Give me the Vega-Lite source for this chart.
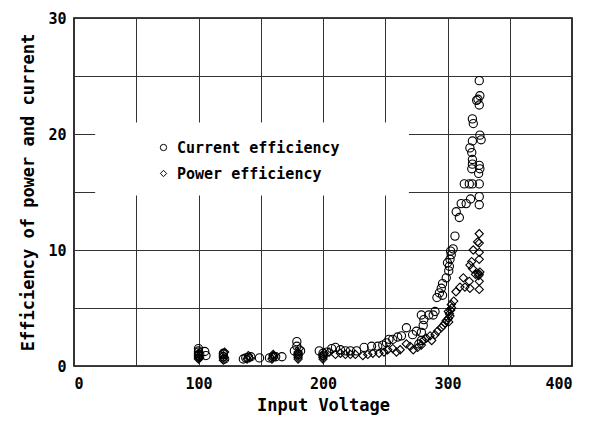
{
  "$schema": "https://vega.github.io/schema/vega-lite/v6.json",
  "width": 498,
  "height": 348,
  "autosize": {"type": "none"},
  "padding": {"left": 74, "top": 18, "right": 24, "bottom": 61},
  "background": "white",
  "config": {
    "view": {"stroke": "black", "strokeWidth": 1.6},
    "axis": {
      "grid": true,
      "gridColor": "#333333",
      "gridOpacity": 1,
      "gridWidth": 1,
      "domain": false,
      "ticks": false,
      "labelFont": "DejaVu Sans Mono",
      "labelFontWeight": "bold",
      "labelFontSize": 15,
      "labelColor": "black",
      "titleFont": "DejaVu Sans Mono",
      "titleFontWeight": "bold",
      "titleColor": "black"
    }
  },
  "layer": [
    {
      "data": {"values": [{"a": 1}]},
      "mark": {"type": "rect", "fill": "white", "stroke": null},
      "encoding": {
        "x": {"datum": 17, "type": "quantitative", "scale": {"domain": [0, 400]}},
        "x2": {"datum": 269},
        "y": {"datum": 14.7, "type": "quantitative", "scale": {"domain": [0, 30]}},
        "y2": {"datum": 21}
      }
    },
    {
      "data": {
        "values": [
          {"v": 100, "e": 1.5, "t": "Current efficiency"},
          {"v": 100, "e": 1.3, "t": "Current efficiency"},
          {"v": 100, "e": 1.2, "t": "Current efficiency"},
          {"v": 100, "e": 0.9, "t": "Current efficiency"},
          {"v": 101, "e": 1.0, "t": "Current efficiency"},
          {"v": 105, "e": 1.25, "t": "Current efficiency"},
          {"v": 106, "e": 0.9, "t": "Current efficiency"},
          {"v": 120, "e": 1.1, "t": "Current efficiency"},
          {"v": 120, "e": 1.0, "t": "Current efficiency"},
          {"v": 120, "e": 0.8, "t": "Current efficiency"},
          {"v": 121, "e": 0.6, "t": "Current efficiency"},
          {"v": 136, "e": 0.6, "t": "Current efficiency"},
          {"v": 138, "e": 0.7, "t": "Current efficiency"},
          {"v": 140, "e": 0.75, "t": "Current efficiency"},
          {"v": 142, "e": 0.8, "t": "Current efficiency"},
          {"v": 149, "e": 0.7, "t": "Current efficiency"},
          {"v": 157, "e": 0.7, "t": "Current efficiency"},
          {"v": 160, "e": 0.8, "t": "Current efficiency"},
          {"v": 162, "e": 0.8, "t": "Current efficiency"},
          {"v": 167, "e": 0.8, "t": "Current efficiency"},
          {"v": 179, "e": 2.1, "t": "Current efficiency"},
          {"v": 179, "e": 1.7, "t": "Current efficiency"},
          {"v": 177, "e": 1.3, "t": "Current efficiency"},
          {"v": 182, "e": 1.3, "t": "Current efficiency"},
          {"v": 180, "e": 1.0, "t": "Current efficiency"},
          {"v": 197, "e": 1.3, "t": "Current efficiency"},
          {"v": 203, "e": 1.2, "t": "Current efficiency"},
          {"v": 200, "e": 1.1, "t": "Current efficiency"},
          {"v": 200, "e": 0.9, "t": "Current efficiency"},
          {"v": 207, "e": 1.5, "t": "Current efficiency"},
          {"v": 210, "e": 1.6, "t": "Current efficiency"},
          {"v": 214, "e": 1.4, "t": "Current efficiency"},
          {"v": 218, "e": 1.3, "t": "Current efficiency"},
          {"v": 222, "e": 1.3, "t": "Current efficiency"},
          {"v": 227, "e": 1.3, "t": "Current efficiency"},
          {"v": 233, "e": 1.6, "t": "Current efficiency"},
          {"v": 239, "e": 1.7, "t": "Current efficiency"},
          {"v": 244, "e": 1.7, "t": "Current efficiency"},
          {"v": 248, "e": 1.8, "t": "Current efficiency"},
          {"v": 251, "e": 2.0, "t": "Current efficiency"},
          {"v": 253, "e": 2.3, "t": "Current efficiency"},
          {"v": 256, "e": 2.3, "t": "Current efficiency"},
          {"v": 260, "e": 2.5, "t": "Current efficiency"},
          {"v": 263, "e": 2.6, "t": "Current efficiency"},
          {"v": 267, "e": 3.3, "t": "Current efficiency"},
          {"v": 272, "e": 2.7, "t": "Current efficiency"},
          {"v": 275, "e": 3.0, "t": "Current efficiency"},
          {"v": 277, "e": 1.9, "t": "Current efficiency"},
          {"v": 279, "e": 2.2, "t": "Current efficiency"},
          {"v": 279, "e": 2.9, "t": "Current efficiency"},
          {"v": 280.5, "e": 3.5, "t": "Current efficiency"},
          {"v": 279, "e": 4.4, "t": "Current efficiency"},
          {"v": 281, "e": 4.0, "t": "Current efficiency"},
          {"v": 285, "e": 4.4, "t": "Current efficiency"},
          {"v": 288.5, "e": 4.4, "t": "Current efficiency"},
          {"v": 290, "e": 4.7, "t": "Current efficiency"},
          {"v": 291.5, "e": 5.9, "t": "Current efficiency"},
          {"v": 293.5, "e": 6.3, "t": "Current efficiency"},
          {"v": 295, "e": 6.7, "t": "Current efficiency"},
          {"v": 296, "e": 6.1, "t": "Current efficiency"},
          {"v": 296, "e": 7.1, "t": "Current efficiency"},
          {"v": 299, "e": 7.6, "t": "Current efficiency"},
          {"v": 300, "e": 8.9, "t": "Current efficiency"},
          {"v": 301, "e": 8.2, "t": "Current efficiency"},
          {"v": 301.5, "e": 8.6, "t": "Current efficiency"},
          {"v": 302, "e": 9.2, "t": "Current efficiency"},
          {"v": 302.5, "e": 9.9, "t": "Current efficiency"},
          {"v": 303, "e": 9.6, "t": "Current efficiency"},
          {"v": 304.5, "e": 10.1, "t": "Current efficiency"},
          {"v": 306, "e": 11.2, "t": "Current efficiency"},
          {"v": 307, "e": 13.3, "t": "Current efficiency"},
          {"v": 309.5, "e": 12.8, "t": "Current efficiency"},
          {"v": 311, "e": 14.0, "t": "Current efficiency"},
          {"v": 313.5, "e": 15.7, "t": "Current efficiency"},
          {"v": 315, "e": 14.0, "t": "Current efficiency"},
          {"v": 317.5, "e": 15.7, "t": "Current efficiency"},
          {"v": 318, "e": 18.8, "t": "Current efficiency"},
          {"v": 318.5, "e": 14.4, "t": "Current efficiency"},
          {"v": 319.5, "e": 18.4, "t": "Current efficiency"},
          {"v": 319.5, "e": 17.0, "t": "Current efficiency"},
          {"v": 320, "e": 15.7, "t": "Current efficiency"},
          {"v": 320, "e": 17.4, "t": "Current efficiency"},
          {"v": 320, "e": 17.8, "t": "Current efficiency"},
          {"v": 320, "e": 19.4, "t": "Current efficiency"},
          {"v": 320, "e": 21.3, "t": "Current efficiency"},
          {"v": 320.7, "e": 20.9, "t": "Current efficiency"},
          {"v": 323.4, "e": 22.9, "t": "Current efficiency"},
          {"v": 324.5, "e": 23.0, "t": "Current efficiency"},
          {"v": 325, "e": 16.6, "t": "Current efficiency"},
          {"v": 325.5, "e": 13.9, "t": "Current efficiency"},
          {"v": 325.5, "e": 14.6, "t": "Current efficiency"},
          {"v": 325.5, "e": 15.7, "t": "Current efficiency"},
          {"v": 325.5, "e": 17.3, "t": "Current efficiency"},
          {"v": 325.5, "e": 22.5, "t": "Current efficiency"},
          {"v": 325.5, "e": 24.6, "t": "Current efficiency"},
          {"v": 326, "e": 23.3, "t": "Current efficiency"},
          {"v": 326, "e": 17.0, "t": "Current efficiency"},
          {"v": 326, "e": 19.9, "t": "Current efficiency"},
          {"v": 327, "e": 19.5, "t": "Current efficiency"},
          {"v": 100, "e": 0.6, "t": "Power efficiency"},
          {"v": 100, "e": 0.7, "t": "Power efficiency"},
          {"v": 100, "e": 0.8, "t": "Power efficiency"},
          {"v": 100, "e": 1.0, "t": "Power efficiency"},
          {"v": 100, "e": 1.1, "t": "Power efficiency"},
          {"v": 101, "e": 0.7, "t": "Power efficiency"},
          {"v": 120, "e": 0.5, "t": "Power efficiency"},
          {"v": 120, "e": 0.7, "t": "Power efficiency"},
          {"v": 120, "e": 0.9, "t": "Power efficiency"},
          {"v": 121, "e": 1.2, "t": "Power efficiency"},
          {"v": 139, "e": 0.6, "t": "Power efficiency"},
          {"v": 140, "e": 0.9, "t": "Power efficiency"},
          {"v": 141, "e": 0.7, "t": "Power efficiency"},
          {"v": 159, "e": 0.6, "t": "Power efficiency"},
          {"v": 160, "e": 0.75, "t": "Power efficiency"},
          {"v": 160, "e": 0.9, "t": "Power efficiency"},
          {"v": 160, "e": 1.0, "t": "Power efficiency"},
          {"v": 180, "e": 0.6, "t": "Power efficiency"},
          {"v": 180, "e": 0.75, "t": "Power efficiency"},
          {"v": 180, "e": 0.9, "t": "Power efficiency"},
          {"v": 180, "e": 1.05, "t": "Power efficiency"},
          {"v": 180, "e": 1.2, "t": "Power efficiency"},
          {"v": 181, "e": 1.5, "t": "Power efficiency"},
          {"v": 200, "e": 0.6, "t": "Power efficiency"},
          {"v": 200, "e": 0.75, "t": "Power efficiency"},
          {"v": 200, "e": 0.9, "t": "Power efficiency"},
          {"v": 201, "e": 1.1, "t": "Power efficiency"},
          {"v": 205, "e": 1.2, "t": "Power efficiency"},
          {"v": 210, "e": 1.0, "t": "Power efficiency"},
          {"v": 214, "e": 1.1, "t": "Power efficiency"},
          {"v": 218, "e": 1.0, "t": "Power efficiency"},
          {"v": 222, "e": 1.0, "t": "Power efficiency"},
          {"v": 226, "e": 1.0, "t": "Power efficiency"},
          {"v": 232, "e": 0.9, "t": "Power efficiency"},
          {"v": 236, "e": 1.0, "t": "Power efficiency"},
          {"v": 240, "e": 1.1, "t": "Power efficiency"},
          {"v": 245, "e": 1.1, "t": "Power efficiency"},
          {"v": 249, "e": 1.2, "t": "Power efficiency"},
          {"v": 252, "e": 1.4, "t": "Power efficiency"},
          {"v": 256, "e": 1.5, "t": "Power efficiency"},
          {"v": 259, "e": 1.2, "t": "Power efficiency"},
          {"v": 262, "e": 1.4, "t": "Power efficiency"},
          {"v": 267, "e": 1.9, "t": "Power efficiency"},
          {"v": 270, "e": 1.7, "t": "Power efficiency"},
          {"v": 272.5, "e": 1.4, "t": "Power efficiency"},
          {"v": 276, "e": 1.6, "t": "Power efficiency"},
          {"v": 279, "e": 1.8, "t": "Power efficiency"},
          {"v": 280.6, "e": 2.2, "t": "Power efficiency"},
          {"v": 283, "e": 2.4, "t": "Power efficiency"},
          {"v": 286, "e": 2.6, "t": "Power efficiency"},
          {"v": 287.3, "e": 2.2, "t": "Power efficiency"},
          {"v": 290, "e": 2.7, "t": "Power efficiency"},
          {"v": 292, "e": 3.0, "t": "Power efficiency"},
          {"v": 295, "e": 3.3, "t": "Power efficiency"},
          {"v": 296.6, "e": 3.5, "t": "Power efficiency"},
          {"v": 298, "e": 3.7, "t": "Power efficiency"},
          {"v": 299, "e": 3.9, "t": "Power efficiency"},
          {"v": 300.7, "e": 4.1, "t": "Power efficiency"},
          {"v": 300.7, "e": 4.7, "t": "Power efficiency"},
          {"v": 301.5, "e": 4.5, "t": "Power efficiency"},
          {"v": 301, "e": 3.8, "t": "Power efficiency"},
          {"v": 302, "e": 4.3, "t": "Power efficiency"},
          {"v": 302.5, "e": 4.8, "t": "Power efficiency"},
          {"v": 303.4, "e": 5.0, "t": "Power efficiency"},
          {"v": 303, "e": 5.3, "t": "Power efficiency"},
          {"v": 305, "e": 5.6, "t": "Power efficiency"},
          {"v": 306.8, "e": 6.4, "t": "Power efficiency"},
          {"v": 310, "e": 6.8, "t": "Power efficiency"},
          {"v": 312.7, "e": 7.6, "t": "Power efficiency"},
          {"v": 314, "e": 6.8, "t": "Power efficiency"},
          {"v": 317.5, "e": 7.3, "t": "Power efficiency"},
          {"v": 318, "e": 6.7, "t": "Power efficiency"},
          {"v": 318, "e": 8.7, "t": "Power efficiency"},
          {"v": 319.4, "e": 9.0, "t": "Power efficiency"},
          {"v": 320, "e": 8.4, "t": "Power efficiency"},
          {"v": 320.7, "e": 10.0, "t": "Power efficiency"},
          {"v": 322.5, "e": 7.9, "t": "Power efficiency"},
          {"v": 324.2, "e": 10.7, "t": "Power efficiency"},
          {"v": 324.5, "e": 8.0, "t": "Power efficiency"},
          {"v": 325, "e": 7.8, "t": "Power efficiency"},
          {"v": 325.5, "e": 11.4, "t": "Power efficiency"},
          {"v": 325.5, "e": 10.6, "t": "Power efficiency"},
          {"v": 325.5, "e": 9.8, "t": "Power efficiency"},
          {"v": 325.5, "e": 9.2, "t": "Power efficiency"},
          {"v": 326, "e": 8.1, "t": "Power efficiency"},
          {"v": 325.5, "e": 7.9, "t": "Power efficiency"},
          {"v": 325.5, "e": 7.3, "t": "Power efficiency"},
          {"v": 325.5, "e": 6.6, "t": "Power efficiency"}
        ]
      },
      "mark": {"type": "point", "filled": false, "stroke": "black", "strokeWidth": 1.1, "opacity": 1},
      "encoding": {
        "x": {
          "field": "v",
          "type": "quantitative",
          "scale": {"domain": [0, 400], "nice": false},
          "axis": {
            "values": [0, 50, 100, 150, 200, 250, 300, 350, 400],
            "labelExpr": "datum.value % 100 === 0 ? datum.label : ''",
            "labelPadding": 10,
            "title": "Input Voltage",
            "titleFontSize": 17,
            "titlePadding": 6
          }
        },
        "y": {
          "field": "e",
          "type": "quantitative",
          "scale": {"domain": [0, 30], "nice": false},
          "axis": {
            "values": [0, 5, 10, 15, 20, 25, 30],
            "labelExpr": "datum.value % 10 === 0 ? datum.label : ''",
            "labelPadding": 8,
            "title": "Efficiency of power and current",
            "titleFontSize": 17,
            "titlePadding": 10
          }
        },
        "shape": {
          "field": "t",
          "type": "nominal",
          "scale": {"domain": ["Current efficiency", "Power efficiency"], "range": ["circle", "diamond"]},
          "legend": {
            "title": null,
            "orient": "none",
            "legendX": 82,
            "legendY": 122,
            "labelFont": "DejaVu Sans Mono",
            "labelFontWeight": "bold",
            "labelFontSize": 15,
            "labelColor": "black",
            "labelLimit": 0,
            "symbolSize": 40,
            "symbolStrokeColor": "black",
            "symbolFillColor": "transparent",
            "symbolStrokeWidth": 1,
            "rowPadding": 10,
            "labelOffset": 6
          }
        },
        "size": {"value": 68}
      }
    }
  ]
}
